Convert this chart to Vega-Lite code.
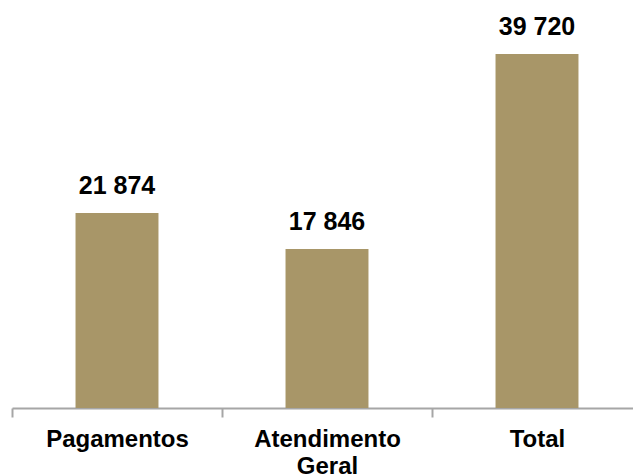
{
  "$schema": "https://vega.github.io/schema/vega-lite/v6.json",
  "width": 630,
  "height": 408,
  "autosize": "none",
  "padding": {"left": 12, "top": 0, "right": 0, "bottom": 68},
  "config": {
    "view": {"stroke": null},
    "locale": {"number": {"decimal": ",", "thousands": " ", "grouping": [3], "currency": ["", " €"]}}
  },
  "data": {
    "values": [
      {"categoria": "Pagamentos", "valor": 21874},
      {"categoria": "Atendimento Geral", "valor": 17846},
      {"categoria": "Total", "valor": 39720}
    ]
  },
  "encoding": {
    "x": {
      "field": "categoria",
      "type": "nominal",
      "sort": null,
      "scale": {"paddingInner": 0.605, "paddingOuter": 0.3025},
      "axis": {
        "title": null,
        "labelAngle": 0,
        "labelFont": "Liberation Sans",
        "labelFontWeight": "bold",
        "labelFontSize": 24,
        "labelColor": "#000000",
        "labelPadding": 10,
        "labelLineHeight": 27,
        "labelExpr": "datum.value == 'Atendimento Geral' ? ['Atendimento', 'Geral'] : datum.value",
        "tickOffset": -105,
        "labelOffset": 105,
        "domainColor": "#a6a6a6",
        "domainWidth": 2,
        "tickColor": "#a6a6a6",
        "tickWidth": 2,
        "tickSize": 9
      }
    },
    "y": {
      "field": "valor",
      "type": "quantitative",
      "scale": {"domain": [0, 45780]},
      "axis": null
    }
  },
  "layer": [
    {"mark": {"type": "bar", "color": "#A89668"}},
    {
      "mark": {
        "type": "text",
        "font": "Liberation Sans",
        "fontWeight": "bold",
        "fontSize": 25,
        "color": "#000000",
        "baseline": "alphabetic",
        "dy": -19
      },
      "encoding": {"text": {"field": "valor", "type": "quantitative", "format": ","}}
    }
  ]
}
